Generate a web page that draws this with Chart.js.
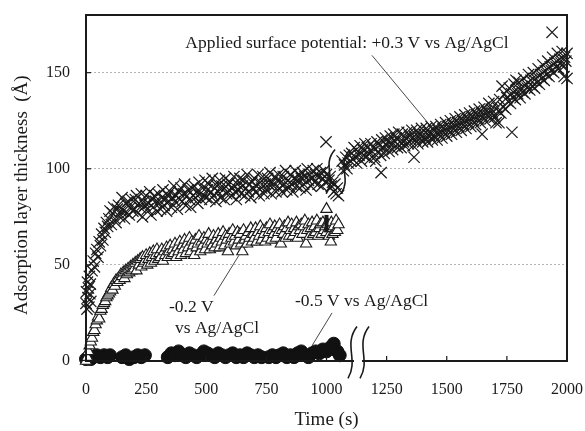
<!DOCTYPE html>
<html>
<head>
<meta charset="utf-8">
<script src="https://cdn.jsdelivr.net/npm/chart.js@4"></script>
<style>
  html, body { margin: 0; padding: 0; background: #fff; }
  canvas { display: block; }
</style>
</head>
<body>
<canvas id="chart" width="585" height="431"></canvas>
<script>
// +0.3 V vs Ag/AgCl (crosses), [time s, thickness Å]
const crossPoints = [
  [0,30],[2,36],[4,27],[6,41],[8,33],[10,38],[12,28],[14,44],[16,35],[18,40],[20,31],[25,47],[30,52],[35,49],[40,56],[45,58],[50,54],[55,62],[60,60],[65,66],[70,63],[75,69],[80,67],[85,72],[90,70],[95,74],
  [100,78],[105,71],[110,77],[115,80],[120,74],[125,72],[130,79],[135,81],[140,75],[145,78],
  [150,85],[155,78],[160,74],[165,82],[170,77],[175,83],[180,76],[185,80],[190,84],[195,78],
  [200,79],[205,84],[210,86],[215,77],[220,82],[225,80],[230,87],[235,75],[240,83],[245,81],
  [250,86],[255,79],[260,82],[265,88],[270,76],[275,84],[280,80],[285,86],[290,83],[295,78],
  [300,87],[305,82],[310,79],[315,85],[320,89],[325,81],[330,84],[335,78],[340,86],[345,83],
  [350,88],[355,80],[360,85],[365,91],[370,83],[375,86],[380,79],[385,88],[390,84],[395,90],
  [400,83],[405,87],[410,92],[415,81],[420,86],[425,89],[430,84],[435,80],[440,90],[445,86],
  [450,91],[455,85],[460,88],[465,82],[470,93],[475,87],[480,84],[485,90],[490,86],[495,94],
  [500,85],[505,89],[510,92],[515,84],[520,88],[525,95],[530,86],[535,90],[540,83],[545,91],
  [550,88],[555,94],[560,85],[565,91],[570,89],[575,84],[580,95],[585,87],[590,92],[595,89],
  [600,93],[605,86],[610,90],[615,96],[620,88],[625,84],[630,92],[635,89],[640,95],[645,87],
  [650,91],[655,94],[660,86],[665,90],[670,97],[675,88],[680,92],[685,85],[690,93],[695,90],
  [700,95],[705,88],[710,91],[715,97],[720,86],[725,93],[730,90],[735,96],[740,87],[745,92],
  [750,89],[755,95],[760,92],[765,98],[770,87],[775,93],[780,91],[785,96],[790,88],[795,94],
  [800,97],[805,90],[810,93],[815,88],[820,96],[825,92],[830,99],[835,89],[840,94],[845,91],
  [850,97],[855,92],[860,88],[865,95],[870,99],[875,91],[880,94],[885,97],[890,90],[895,95],
  [900,98],[905,92],[910,96],[915,89],[920,100],[925,94],[930,97],[935,91],[940,95],[945,99],
  [950,93],[955,97],[960,100],[965,92],[970,96],[975,98],[980,91],[985,95],[990,99],[995,93],
  [998,114],[1000,97],[1010,94],[1015,96],[1020,91],[1025,93],[1030,88],[1035,92],[1040,87],[1045,90],[1050,86],
  [1065,104],[1070,99],[1075,102],[1080,106],[1085,100],[1090,103],[1095,107],[1100,104],[1105,108],[1110,105],
  [1115,111],[1120,106],[1125,103],[1130,109],[1135,107],[1140,112],[1145,104],[1150,110],[1155,107],[1160,113],
  [1165,106],[1170,111],[1175,108],[1180,105],[1185,113],[1190,109],[1195,111],[1200,106],[1205,104],[1210,114],
  [1215,109],[1220,112],[1225,107],[1227,98],[1230,115],[1235,111],[1240,108],[1245,116],[1250,112],[1255,114],[1260,109],
  [1265,117],[1270,113],[1275,110],[1280,118],[1285,114],[1290,116],[1295,111],[1300,119],[1305,114],[1310,111],
  [1315,118],[1320,114],[1325,112],[1330,116],[1335,119],[1340,113],[1345,117],[1350,115],[1355,120],[1360,112],[1364,106],
  [1365,117],[1370,115],[1375,120],[1380,113],[1385,118],[1390,116],[1395,121],[1400,114],[1405,118],[1410,116],
  [1415,121],[1420,114],[1425,119],[1430,117],[1435,122],[1440,115],[1445,120],[1450,117],[1455,122],[1460,115],
  [1465,120],[1470,118],[1475,123],[1480,116],[1485,121],[1490,119],[1495,124],[1500,117],[1505,122],[1510,120],
  [1515,125],[1520,118],[1525,123],[1530,121],[1535,126],[1540,119],[1545,124],[1550,122],[1555,127],[1560,120],
  [1565,125],[1570,123],[1575,128],[1580,121],[1585,126],[1590,124],[1595,129],[1600,122],[1605,127],[1610,125],
  [1615,130],[1620,123],[1625,128],[1630,126],[1635,131],[1640,124],[1645,129],[1647,118],[1650,127],[1655,132],
  [1660,125],[1665,130],[1670,128],[1675,134],[1680,126],[1685,131],[1690,129],[1695,135],[1700,127],[1705,124],
  [1710,132],[1715,130],[1717,124],[1720,136],[1725,129],[1730,143],[1735,132],[1740,139],[1745,131],[1750,137],
  [1755,135],[1760,142],[1765,134],[1770,139],[1771,119],[1775,137],[1780,144],[1785,136],[1788,146],[1790,141],
  [1795,139],[1800,145],[1805,137],[1810,142],[1815,140],[1820,147],[1825,139],[1830,144],[1835,142],[1840,149],
  [1845,141],[1850,146],[1855,143],[1860,150],[1865,142],[1870,147],[1875,145],[1880,152],[1885,144],[1890,149],
  [1895,147],[1900,154],[1905,146],[1910,151],[1915,149],[1920,156],[1925,148],[1930,153],[1935,151],[1938,171],
  [1940,158],[1945,150],[1950,155],[1955,153],[1960,160],[1965,152],[1970,157],[1975,155],[1980,161],[1985,153],
  [1988,148],[1990,158],[1995,156],[2000,160],[2000,147]
];

// -0.2 V vs Ag/AgCl (open triangles)
const triPoints = [
  [0,0],[5,2],[10,5],[15,8],[20,10],[25,12],[30,15],[35,16],[40,19],[45,21],[50,23],[55,22],[60,26],[65,27],[70,29],[75,30],[80,31],[85,33],[90,34],[95,35],
  [100,36],[105,38],[110,37],[115,40],[120,39],[125,42],[130,41],[135,43],[140,42],[145,45],
  [150,44],[155,46],[160,43],[165,47],[170,45],[175,48],[180,46],[185,49],[190,47],[195,50],
  [200,48],[205,51],[210,47],[215,52],[220,50],[225,53],[230,49],[235,54],[240,51],[245,52],
  [250,55],[255,50],[260,53],[265,56],[270,51],[275,54],[280,57],[285,52],[290,55],[295,58],
  [300,53],[305,56],[310,54],[315,58],[320,52],[325,57],[330,55],[335,59],[340,54],[345,57],
  [350,60],[355,55],[360,58],[365,56],[370,61],[375,54],[380,59],[385,57],[390,62],[395,55],
  [400,60],[405,58],[410,63],[415,56],[420,61],[425,59],[430,64],[435,57],[440,62],[445,60],
  [450,55],[455,63],[460,59],[465,61],[470,65],[475,57],[480,62],[485,60],[490,64],[495,58],
  [500,63],[505,61],[510,66],[515,58],[520,62],[525,60],[530,65],[535,59],[540,63],[545,61],
  [550,66],[555,59],[560,64],[565,62],[570,67],[575,60],[580,65],[585,63],[590,57],[595,66],
  [600,61],[605,64],[610,68],[615,62],[620,65],[625,60],[630,67],[635,63],[640,66],[645,61],
  [650,57],[655,68],[660,63],[665,65],[670,61],[675,67],[680,64],[685,69],[690,62],[695,66],
  [700,64],[705,69],[710,62],[715,67],[720,65],[725,70],[730,63],[735,68],[740,66],[745,62],
  [750,69],[755,64],[760,67],[765,71],[770,63],[775,68],[780,66],[785,70],[790,64],[795,69],
  [800,67],[805,71],[810,61],[815,68],[820,66],[825,70],[830,64],[835,69],[840,72],[845,65],
  [850,68],[855,71],[860,65],[865,69],[870,67],[875,72],[880,64],[885,70],[890,68],[895,71],
  [900,66],[905,70],[910,73],[915,61],[920,68],[925,71],[930,65],[935,69],[940,72],[945,66],
  [950,70],[955,67],[960,73],[965,65],[970,69],[975,71],[980,66],[985,72],[990,68],[995,70],
  [1000,67],[1005,71],[1010,65],[1015,69],[1018,62],[1020,72],[1025,66],[1030,70],[1035,67],[1040,73],[1045,68],[1050,71]
];

// -0.5 V vs Ag/AgCl (filled circles)
const dotPoints = [
  [0,1],[10,2],[20,1],[30,2],[45,3],[60,2],[75,3],[90,2],[100,3],
  [150,2],[165,3],[180,1],[200,2],[215,3],[230,2],[245,3],
  [340,2],[355,4],[370,3],[385,5],[400,3],[415,2],[430,4],[445,3],[460,2],[475,3],[490,5],[505,4],[520,3],[535,2],
  [550,4],[565,3],[580,2],[595,3],[610,4],[625,2],[640,3],[655,2],[670,4],[685,3],[700,2],[715,3],[730,2],
  [760,2],[775,3],[790,2],[805,3],[820,4],[835,2],[850,3],[865,2],[880,4],[895,5],[910,3],[925,2],[940,4],
  [955,5],[970,4],[985,6],[1000,5],[1015,7],[1030,9],[1045,5],[1055,3]
];

// arrow at the end of the -0.2 V run
const arrowTime = 1000;
const arrowStem = [67, 76];
const arrowHead = 79;

const xTicks = [0, 250, 500, 750, 1000, 1250, 1500, 1750, 2000];
const yTicks = [0, 50, 100, 150];

// axis-break marks (time positions of the two strokes, value range)
const upperBreak = { times: [1015, 1077], from: 87, to: 110 };
const lowerBreak = { times: [1106, 1156], from: -9, to: 18 };

// annotations anchored in data coordinates, leader [t0, v0, t1, v1]
const notes = [
  { lines: ['Applied surface potential: +0.3 V vs Ag/AgCl'], t: 1085, v: 165, align: 'center', leader: [1189, 159, 1434, 122] },
  { lines: ['-0.2 V', 'vs Ag/AgCl'], t: 345, v: 28, align: 'left', indent: [0, 6], leader: [532, 34, 636, 55] },
  { lines: ['-0.5 V vs Ag/AgCl'], t: 869, v: 31, align: 'left', leader: [1023, 25, 940, 8] }
];

const FONT = "'Liberation Serif', 'Times New Roman', serif";
const INK = '#1a1a1a';

const toXY = arr => arr.map(([x, y]) => ({ x, y }));
const noOverhang = s => { s.paddingTop = 0; s.paddingBottom = 0; s.paddingLeft = 0; s.paddingRight = 0; };

const decor = {
  id: 'decor',
  afterDatasetsDraw(chart) {
    const { ctx, chartArea: a, scales: { x, y } } = chart;
    ctx.save();

    // inward ticks
    ctx.strokeStyle = INK;
    ctx.lineWidth = 1.2;
    xTicks.forEach(t => {
      const px = x.getPixelForValue(t);
      ctx.beginPath(); ctx.moveTo(px, a.bottom); ctx.lineTo(px, a.bottom - 5); ctx.stroke();
    });
    yTicks.forEach(v => {
      const py = y.getPixelForValue(v);
      ctx.beginPath(); ctx.moveTo(a.left, py); ctx.lineTo(a.left + 5, py); ctx.stroke();
    });

    // frame
    ctx.lineWidth = 2;
    ctx.strokeRect(a.left, a.top, a.right - a.left, a.bottom - a.top);

    // lower break: clear the axis between the strokes
    const lx0 = x.getPixelForValue(lowerBreak.times[0]);
    const lx1 = x.getPixelForValue(lowerBreak.times[1]);
    ctx.fillStyle = '#fff';
    ctx.fillRect(lx0 + 2, a.bottom - 2, lx1 - lx0 - 4, 4);

    // break strokes
    const stroke = (t, v0, v1) => {
      const px = x.getPixelForValue(t);
      const top = y.getPixelForValue(v1), bot = y.getPixelForValue(v0);
      const h = bot - top;
      ctx.beginPath();
      ctx.moveTo(px + 5, top);
      ctx.bezierCurveTo(px - 9, top + 0.35 * h, px + 7, top + 0.65 * h, px - 4, bot);
      ctx.stroke();
    };
    ctx.lineWidth = 1.6;
    upperBreak.times.forEach(t => stroke(t, upperBreak.from, upperBreak.to));
    lowerBreak.times.forEach(t => stroke(t, lowerBreak.from, lowerBreak.to));

    // annotations
    ctx.font = '17.5px ' + FONT;
    ctx.fillStyle = INK;
    ctx.textBaseline = 'middle';
    notes.forEach(n => {
      const px = x.getPixelForValue(n.t), py = y.getPixelForValue(n.v);
      ctx.textAlign = n.align;
      n.lines.forEach((s, i) => {
        const dx = n.indent ? n.indent[i] : 0;
        ctx.fillText(s, px + dx, py + i * 21);
      });
      const [t0, v0, t1, v1] = n.leader;
      ctx.lineWidth = 0.8;
      ctx.beginPath();
      ctx.moveTo(x.getPixelForValue(t0), y.getPixelForValue(v0));
      ctx.lineTo(x.getPixelForValue(t1), y.getPixelForValue(v1));
      ctx.stroke();
    });
    ctx.restore();
  }
};

new Chart(document.getElementById('chart'), {
  type: 'scatter',
  data: {
    datasets: [
      { label: 'arrow head', data: [{ x: arrowTime, y: arrowHead }], pointStyle: 'triangle', radius: 6.5,
        backgroundColor: '#fff', borderColor: INK, borderWidth: 1.2, clip: false },
      { label: 'arrow', data: arrowStem.map(v => ({ x: arrowTime, y: v })), showLine: true,
        borderColor: INK, borderWidth: 4, pointRadius: 0, clip: false },
      { label: '+0.3 V', data: toXY(crossPoints), pointStyle: 'crossRot', radius: 8,
        borderColor: INK, borderWidth: 1.2, backgroundColor: 'transparent', clip: false },
      { label: '-0.2 V', data: toXY(triPoints), pointStyle: 'triangle', radius: 6.5,
        backgroundColor: '#fff', borderColor: INK, borderWidth: 1.1, clip: false },
      { label: '-0.5 V', data: toXY(dotPoints), pointStyle: 'circle', radius: 6.5,
        backgroundColor: '#111', borderColor: '#111', borderWidth: 1, clip: false }
    ]
  },
  options: {
    responsive: false,
    animation: false,
    layout: { padding: { top: 15, right: 18, left: 0, bottom: 0 } },
    plugins: { legend: { display: false }, tooltip: { enabled: false } },
    scales: {
      x: {
        type: 'linear', min: 0, max: 2000,
        afterFit: s => { s.height = 70; noOverhang(s); },
        afterBuildTicks: s => { s.ticks = xTicks.map(v => ({ value: v })); },
        grid: { display: false },
        border: { display: false },
        ticks: { padding: 11, color: INK, font: { family: FONT, size: 16 }, callback: v => String(v) },
        title: { display: true, text: 'Time (s)', color: INK, font: { family: FONT, size: 19 }, padding: { top: 8, bottom: 0 } }
      },
      y: {
        type: 'linear', min: 0, max: 180,
        afterFit: s => { s.width = 86; noOverhang(s); },
        afterBuildTicks: s => { s.ticks = yTicks.map(v => ({ value: v })); },
        grid: { drawTicks: false, lineWidth: 1, color: c => (c.tick && c.tick.value === 0) ? 'transparent' : '#b5b5b5' },
        border: { display: false, dash: [2, 2] },
        ticks: { padding: 16, color: INK, font: { family: FONT, size: 16 }, callback: v => String(v) },
        title: { display: true, text: 'Adsorption layer thickness  (Å)\u00a0\u00a0\u00a0', color: INK, font: { family: FONT, size: 19 }, padding: { top: 11, bottom: 4 } }
      }
    }
  },
  plugins: [decor]
});
</script>
</body>
</html>
